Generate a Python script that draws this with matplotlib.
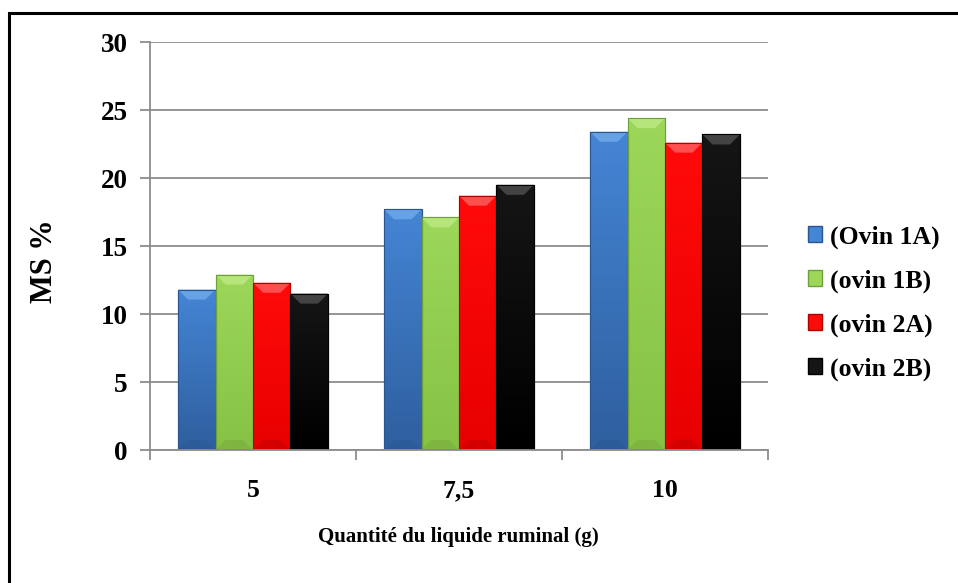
import numpy as np
import matplotlib
matplotlib.use('Agg')
from matplotlib import pyplot as plt
from matplotlib.patches import Rectangle, Polygon, Patch
from matplotlib.colors import LinearSegmentedColormap

# Données
quantites = ['5', '7,5', '10']
series = ['(Ovin 1A)', '(ovin 1B)', '(ovin 2A)', '(ovin 2B)']
ovin_1a = [11.8, 17.7, 23.4]
ovin_1b = [12.9, 17.1, 24.4]
ovin_2a = [12.3, 18.7, 22.6]
ovin_2b = [11.5, 19.5, 23.2]
valeurs = [ovin_1a, ovin_1b, ovin_2a, ovin_2b]

# Couleurs : (haut, bas, biseau haut, bord)
couleurs = [
    ('#4485d4', '#2f5f9f', '#6ea8e8', '#2a5690'),
    ('#9cd75a', '#86c244', '#bbe882', '#6f9f3a'),
    ('#ff0a0a', '#e80000', '#ff5c5c', '#b00000'),
    ('#151515', '#000000', '#4c4c4c', '#000000'),
]

plt.rcParams['font.family'] = ['Liberation Serif', 'DejaVu Serif']
plt.rcParams['font.weight'] = 'bold'

fig = plt.figure(figsize=(9.58, 5.83), dpi=100)
ax = fig.add_axes([150/958, 133/583, 618/958, 408/583])

# Cadre autour du graphique
fig.patches.append(Rectangle((9/958, -0.05), 1.1, 570/583 + 0.05,
                             transform=fig.transFigure, fill=False,
                             edgecolor='black', lw=2.2))

x = np.arange(len(quantites))
largeur = 0.182
ymax = 30
# taille du biseau en unités de données (environ 10 px)
dx = 10 / 206
dy = 10 / (408 / ymax)
grad = np.linspace(1, 0, 64).reshape(-1, 1)

for i, (vals, (c_haut, c_bas, c_biseau, c_bord)) in enumerate(zip(valeurs, couleurs)):
    pos = x + (i - 1.5) * largeur
    bars = ax.bar(pos, vals, largeur, color=c_haut, zorder=3,
                  edgecolor=c_bord, linewidth=0.8)
    cmap = LinearSegmentedColormap.from_list('d', [c_bas, c_haut])
    for b in bars:
        x0, w, h = b.get_x(), b.get_width(), b.get_height()
        x1 = x0 + w
        # dégradé vertical du corps de la barre
        im = ax.imshow(grad, cmap=cmap, extent=[x0, x1, 0, h], aspect='auto',
                       zorder=3.5, vmin=0, vmax=1)
        im.set_clip_path(b)
        # biseau supérieur
        ax.add_patch(Polygon([(x0, h), (x1, h), (x1 - dx, h - dy), (x0 + dx, h - dy)],
                             closed=True, color=c_biseau, lw=0, zorder=4, alpha=0.85))
        # biseau inférieur
        ax.add_patch(Polygon([(x0, 0), (x1, 0), (x1 - dx, dy), (x0 + dx, dy)],
                             closed=True, color=c_bord, lw=0, zorder=4, alpha=0.35))
        # contour
        ax.add_patch(Rectangle((x0, 0), w, h, fill=False, edgecolor=c_bord,
                               lw=0.8, zorder=4.5))

# Axes
ax.set_xlim(-0.5, 2.5)
ax.set_ylim(0, ymax)
ax.set_yticks(np.arange(0, 31, 5))
ax.set_xticks(x)
ax.set_xticklabels(quantites)
ax.set_xticks([-0.5, 0.5, 1.5, 2.5], minor=True)
ax.tick_params(axis='x', which='major', length=0, pad=21, labelsize=18.5)
ax.tick_params(axis='x', which='minor', length=7, color='#8c8c8c', width=1.3)
ax.tick_params(axis='y', length=7, color='#8c8c8c', width=1.3, pad=9, labelsize=19.5)
for t in ax.get_xticklabels() + ax.get_yticklabels():
    t.set_fontweight('bold')
ax.yaxis.grid(True, color='#8c8c8c', lw=1.3, zorder=0)
ax.set_axisbelow(True)
for s in ('top', 'right'):
    ax.spines[s].set_visible(False)
for s in ('left', 'bottom'):
    ax.spines[s].set_color('#8c8c8c')
    ax.spines[s].set_linewidth(1.3)
    ax.spines[s].set_zorder(5)

fig.text(45/958, 1 - 261/583, 'MS %', rotation=90, fontsize=22,
         fontweight='bold', ha='center', va='center')
fig.text(458/958, 1 - 537/583, 'Quantité du liquide ruminal (g)', fontsize=15,
         fontweight='bold', ha='center', va='center')

# Légende
poignees = [Patch(facecolor=c[0], edgecolor=c[3], lw=1) for c in couleurs]
fig.legend(poignees, series, loc='center left', bbox_to_anchor=(785/958, 1 - 303/583),
           frameon=False, handlelength=0.55, handleheight=0.55,
           handletextpad=0.3, labelspacing=0.8, prop={'weight': 'bold', 'size': 18.5})

fig.savefig('out.png', dpi=100)
